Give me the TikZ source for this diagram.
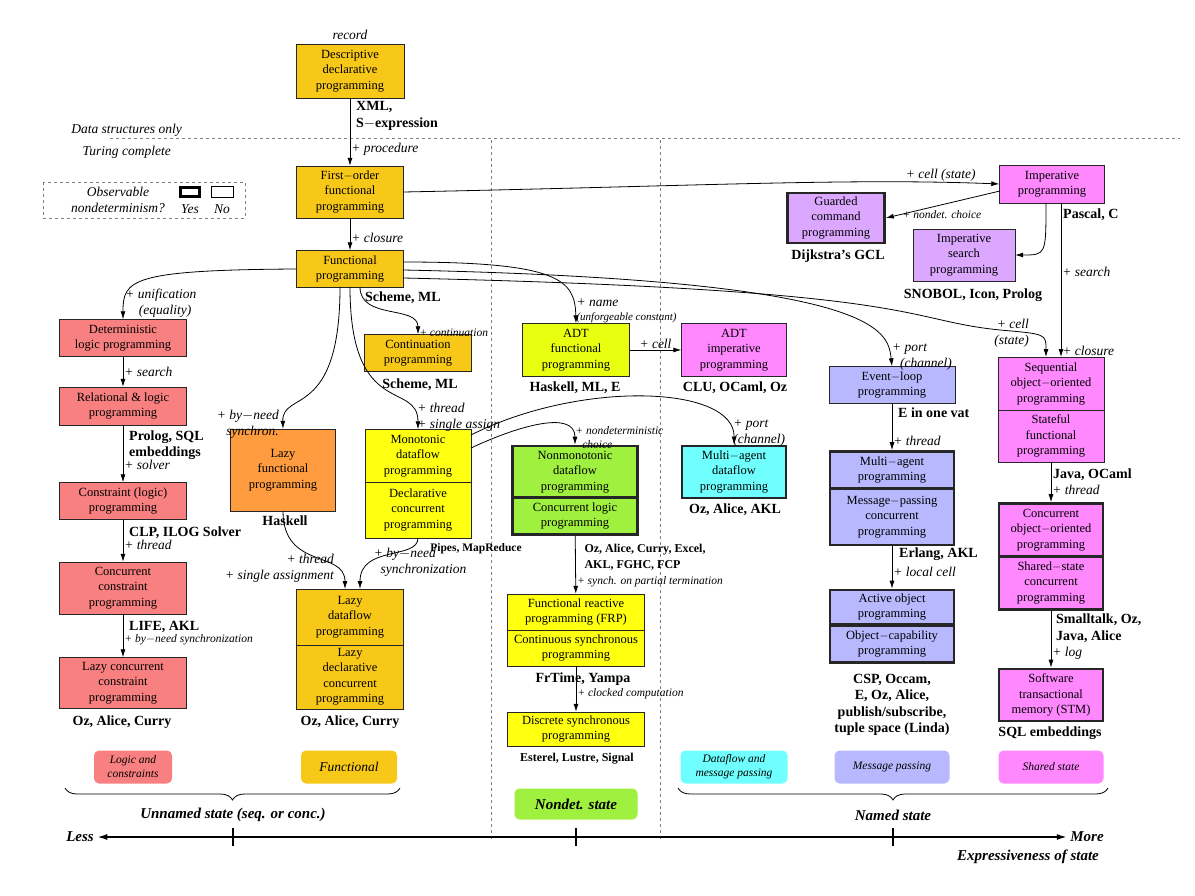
\documentclass[tikz,border=0pt]{standalone}
\usepackage{fontspec}
\setmainfont{Liberation Serif}
\usetikzlibrary{arrows.meta,decorations.pathreplacing}
\definecolor{logicRed}{HTML}{F88080}
\definecolor{funcGold}{HTML}{F8C818}
\definecolor{lazyOrange}{HTML}{FF9C40}
\definecolor{flowYellow}{HTML}{FFFF10}
\definecolor{adtLime}{HTML}{E8FF10}
\definecolor{stateMagenta}{HTML}{FF88FF}
\definecolor{nondetGreen}{HTML}{A0F040}
\definecolor{agentCyan}{HTML}{70FFFF}
\definecolor{msgLavender}{HTML}{B8B8FF}
\definecolor{guardLilac}{HTML}{DCA8FF}
\newcommand\bxf{\fontsize{12.5}{15.5}\selectfont}
\newcommand\lbf{\fontsize{14}{16.5}\selectfont\bfseries}
\newcommand\opf{\fontsize{13.5}{16}\selectfont\itshape}
\newcommand\smf{\fontsize{11.5}{14}\selectfont\itshape}

\begin{document}
\begin{tikzpicture}[x=1pt,y=-1pt,
  box/.style 2 args={draw=black!85,align=center,font=\bxf,inner sep=1pt,
    minimum width=#1,minimum height=#2},
  hard/.style={line width=2.6pt},
  lang/.style={font=\lbf,align=left,inner sep=1pt},
  op/.style={font=\opf,align=left,inner sep=1pt},
  sop/.style={font=\smf,align=left,inner sep=1pt},
  arr/.style={-{Latex[length=8pt,width=5pt]},thick},
  cat/.style={rounded corners=5pt,font=\smf,align=center,minimum height=33pt,inner sep=1pt},
  sep/.style={dashed,gray}]
 \useasboundingbox (0,0) rectangle (1195,896);
 % Levels
 \draw[sep] (110,138) -- (1180,138);
 \draw[sep] (491,140) -- (491,840);
 \draw[sep] (660,140) -- (660,840);
 \node[op,anchor=east] (dsonly) at (183,130) {Data structures only};
 \node[op,anchor=east] (turing) at (172,152) {Turing complete};
 % Legend
 \draw[dashed,gray] (43,182) rectangle (245,218);
 \node[op,align=center] (obs) at (118,200) {Observable\\nondeterminism?};
 \node[draw,hard,minimum width=19pt,minimum height=9pt,inner sep=0pt] (yesbox) at (190,192) {};
 \node[draw,minimum width=22pt,minimum height=11pt,inner sep=0pt] (nobox) at (222,192) {};
 \node[op] (yes) at (190,209) {Yes};
 \node[op] (no) at (222,209) {No};
 % Functional column
 \node[box={108pt}{54pt},fill=funcGold] (desc) at (350,71) {Descriptive\\declarative\\programming};
 \node[op] (record) at (350,35) {record};
 \node[lang,anchor=west] (xml) at (355,116) {XML,\\S$-$expression};
 \node[box={107pt}{52pt},fill=funcGold] (first) at (350,192) {First$-$order\\functional\\programming};
 \node[box={107pt}{37pt},fill=funcGold] (func) at (350,269) {Functional\\programming};
 \node[lang,anchor=west] (schemeA) at (364,298) {Scheme, ML};
 \node[box={107pt}{37pt},fill=funcGold] (cont) at (418,353) {Continuation\\programming};
 \node[lang] (schemeB) at (420,385) {Scheme, ML};
 \node[box={105pt}{82pt},fill=lazyOrange] (lazyfun) at (283,470) {Lazy\\functional\\programming};
 \node[lang] (haskell) at (285,521) {Haskell};
 \node[box={106pt}{53pt},fill=flowYellow] (mono) at (418,456) {Monotonic\\dataflow\\programming};
 \node[box={106pt}{56pt},fill=flowYellow] (declc) at (418,510) {Declarative\\concurrent\\programming};
 \node[font=\fontsize{11.5}{13}\selectfont\bfseries] (pipes) at (476,549) {Pipes, MapReduce};
 \node[box={107pt}{56pt},fill=funcGold] (lazyflow) at (350,617) {Lazy\\dataflow\\programming};
 \node[box={107pt}{64pt},fill=funcGold] (lazydecl) at (350,677) {Lazy\\declarative\\concurrent\\programming};
 \node[lang] (ozB) at (350,722) {Oz, Alice, Curry};
 % Logic column
 \node[box={127pt}{37pt},fill=logicRed] (detlog) at (123,338) {Deterministic\\logic programming};
 \node[box={127pt}{38pt},fill=logicRed] (rellog) at (123,406) {Relational \& logic\\programming};
 \node[lang,anchor=west] (prolog) at (128,445) {Prolog, SQL\\embeddings};
 \node[box={127pt}{37pt},fill=logicRed] (constr) at (123,501) {Constraint (logic)\\programming};
 \node[lang,anchor=west] (clp) at (128,533) {CLP, ILOG Solver};
 \node[box={127pt}{52pt},fill=logicRed] (cconstr) at (123,588) {Concurrent\\constraint\\programming};
 \node[lang,anchor=west] (life) at (128,627) {LIFE, AKL};
 \node[box={127pt}{51pt},fill=logicRed] (lcconstr) at (123,683) {Lazy concurrent\\constraint\\programming};
 \node[lang] (ozA) at (122,722) {Oz, Alice, Curry};
 % Nondeterministic column
 \node[box={107pt}{53pt},fill=adtLime] (adtf) at (576,350) {ADT\\functional\\programming};
 \node[lang] (haskB) at (575,388) {Haskell, ML, E};
 \node[box={125pt}{52pt},fill=nondetGreen,hard] (nonmono) at (575,472) {Nonmonotonic\\dataflow\\programming};
 \node[box={125pt}{37pt},fill=nondetGreen,hard] (clogic) at (575,516) {Concurrent logic\\programming};
 \node[font=\fontsize{12}{16}\selectfont\bfseries,align=left,anchor=west] (ozC) at (581,557) {Oz, Alice, Curry, Excel,\\AKL, FGHC, FCP};
 \node[box={137pt}{36pt},fill=flowYellow] (frp) at (576,612) {Functional reactive\\programming (FRP)};
 \node[box={137pt}{36pt},fill=flowYellow] (csync) at (576,648) {Continuous synchronous\\programming};
 \node[lang] (frtime) at (583,679) {FrTime, Yampa};
 \node[box={137pt}{34pt},fill=flowYellow] (dsync) at (576,729) {Discrete synchronous\\programming};
 \node[font=\fontsize{12}{13}\selectfont\bfseries] (esterel) at (577,759) {Esterel, Lustre, Signal};
 % Named state columns
 \node[box={105pt}{53pt},fill=stateMagenta] (adti) at (734,350) {ADT\\imperative\\programming};
 \node[lang] (clu) at (735,388) {CLU, OCaml, Oz};
 \node[box={104pt}{52pt},fill=agentCyan,hard] (madf) at (734,472) {Multi$-$agent\\dataflow\\programming};
 \node[lang] (ozD) at (735,510) {Oz, Alice, AKL};
 \node[box={105pt}{38pt},fill=stateMagenta] (imper) at (1052,184) {Imperative\\programming};
 \coordinate (impguard) at (1000,191);
 \node[lang,anchor=west] (pascal) at (1062,215) {Pascal, C};
 \node[box={97pt}{50pt},fill=guardLilac,hard] (guard) at (836,218) {Guarded\\command\\programming};
 \node[lang] (dijk) at (838,256) {Dijkstra's GCL};
 \node[sop] (ndchoice) at (942,215) {+ nondet. choice};
 \node[box={102pt}{52pt},fill=guardLilac] (isearch) at (964,255) {Imperative\\search\\programming};
 \node[lang] (snobol) at (973,295) {SNOBOL, Icon, Prolog};
 \node[box={126pt}{37pt},fill=msgLavender] (evloop) at (892,385) {Event$-$loop\\programming};
 \node[lang,anchor=west] (evat) at (897,413) {E in one vat};
 \node[box={124pt}{37pt},fill=msgLavender,hard] (magent) at (892,470) {Multi$-$agent\\programming};
 \node[box={124pt}{56pt},fill=msgLavender,hard] (msgpass) at (892,517) {Message$-$passing\\concurrent\\programming};
 \node[lang,anchor=west] (erlang) at (898,554) {Erlang, AKL};
 \node[box={124pt}{34pt},fill=msgLavender,hard] (actobj) at (892,607) {Active object\\programming};
 \node[box={124pt}{37pt},fill=msgLavender,hard] (ocap) at (892,644) {Object$-$capability\\programming};
 \node[lang,align=center] (csp) at (892,705) {CSP, Occam,\\E, Oz, Alice,\\publish/subscribe,\\tuple space (Linda)};
 \node[box={106pt}{53pt},fill=stateMagenta] (seqoo) at (1051,384) {Sequential\\object$-$oriented\\programming};
 \node[box={106pt}{52pt},fill=stateMagenta] (statef) at (1051,436) {Stateful\\functional\\programming};
 \node[lang,anchor=west] (java) at (1052,475) {Java, OCaml};
 \node[box={104pt}{53pt},fill=stateMagenta,hard] (concoo) at (1051,530) {Concurrent\\object$-$oriented\\programming};
 \node[box={104pt}{53pt},fill=stateMagenta,hard] (shared) at (1051,583) {Shared$-$state\\concurrent\\programming};
 \node[lang,anchor=west] (small) at (1055,628) {Smalltalk, Oz,\\Java, Alice};
 \node[box={104pt}{52pt},fill=stateMagenta,hard] (stm) at (1051,695) {Software\\transactional\\memory (STM)};
 \node[lang] (sqlB) at (1050,733) {SQL embeddings};
 % Connectors
 \draw[arr] (desc) -- (first) node[op,pos=0.75,right] {+ procedure};
 \draw[arr] (first) -- (func) node[op,pos=0.6,right] {+ closure};
 \draw[arr] (first.east) .. controls (700,186) and (850,178) .. (imper.west) node[op,pos=0.87,above] {+ cell (state)};
 \draw[arr] (impguard) -- (guard.east);
 \draw[arr] (1046,203) .. controls (1046,255) .. (isearch.east);
 \draw[arr] (1061,203) -- (1061,357) node[op,pos=0.45,right] {+ search} node[op,pos=0.96,right] {+ closure};
 \draw[arr] (func.west) .. controls (130,270) and (123,280) .. (detlog.north) node[op,pos=0.85,right,align=left] {+ unification\\\hspace*{1em}(equality)};
 \draw[arr] (340,287) .. controls (340,420) and (282,390) .. (lazyfun.north) node[op,pos=0.96,left,align=right,xshift=-3pt] {+ by$-$need\\synchron.};
 \draw[arr] (350,287) .. controls (350,420) and (418,380) .. (mono.north) node[op,pos=0.9,right] {+ thread\\+ single assign};
 \draw[arr] (360,287) .. controls (360,320) and (418,305) .. (cont.north) node[sop,pos=0.98,right] {+ continuation};
 \draw[arr] (403,262) .. controls (560,262) and (575,280) .. (adtf.north) node[op,pos=0.9,right,align=left] {+ name\\[-2pt]\fontsize{11}{12}\selectfont(unforgeable constant)};
 \draw[arr] (403,270) .. controls (880,280) and (888,330) .. (evloop.north) node[op,pos=0.92,right] {+ port\\\hspace*{0.6em}(channel)};
 \draw[arr] (403,278) .. controls (930,290) and (900,320) .. (1000,330) .. controls (1046,334) .. (1046,357) node[op,pos=0.3,left,align=right] {+ cell\\(state)};
 \draw[arr] (adtf.east) -- (adti.west) node[op,midway,above] {+ cell};
 \draw[arr] (471,448) .. controls (520,425) and (575,410) .. (nonmono.north) node[sop,pos=0.92,right] {+ nondeterministic\\\hspace*{0.6em}choice};
 \draw[arr] (471,435) .. controls (580,380) and (735,385) .. (madf.north) node[op,pos=0.93,right] {+ port\\(channel)};
 \draw[arr] (detlog) -- (rellog) node[op,midway,right] {+ search};
 \draw[arr] (rellog) -- (constr) node[op,pos=0.7,right] {+ solver};
 \draw[arr] (constr) -- (cconstr) node[op,pos=0.6,right] {+ thread};
 \draw[arr] (cconstr) -- (lcconstr) node[sop,pos=0.6,right] {+ by$-$need synchronization};
 \draw[arr] (283,511) .. controls (283,570) and (345,550) .. (345,589) node[op,pos=0.75,left,align=right] {+ thread\\+ single assignment};
 \draw[arr] (418,538) .. controls (418,560) and (360,545) .. (360,589) node[op,pos=0.7,right] {+ by$-$need\\\hspace*{0.5em}synchronization};
 \draw[arr] (clogic) -- (frp) node[sop,pos=0.8,right] {+ synch. on partial termination};
 \draw[arr] (csync) -- (dsync) node[sop,pos=0.6,right] {+ clocked computation};
 \draw[arr] (evloop) -- (magent) node[op,pos=0.8,right] {+ thread};
 \draw[arr] (msgpass) -- (actobj) node[op,pos=0.6,right] {+ local cell};
 \draw[arr] (statef) -- (concoo) node[op,pos=0.7,right] {+ thread};
 \draw[arr] (shared) -- (stm) node[op,pos=0.75,right] {+ log};
 % Categories
 \node[cat,fill=logicRed,minimum width=78pt] (catlog) at (133,767) {Logic and\\constraints};
 \node[cat,fill=funcGold,minimum width=96pt,font=\opf] (catfun) at (349,767) {Functional};
 \node[cat,fill=nondetGreen,minimum width=123pt,minimum height=31pt,font=\fontsize{15}{17}\selectfont\bfseries\itshape] (catnd) at (576,804) {Nondet. state};
 \node[cat,fill=agentCyan,minimum width=107pt] (catdf) at (734,767) {Dataflow and\\message passing};
 \node[cat,fill=msgLavender,minimum width=115pt] (catmp) at (892,767) {Message passing};
 \node[cat,fill=stateMagenta,minimum width=105pt] (catss) at (1051,767) {Shared state};
 \draw[decorate,decoration={brace,mirror,amplitude=12pt},thick] (65,788) -- (400,788);
 \draw[decorate,decoration={brace,mirror,amplitude=12pt},thick] (678,788) -- (1108,788);
 \node[font=\fontsize{15}{17}\selectfont\bfseries\itshape] (unnamed) at (233,815) {Unnamed state (seq. or conc.)};
 \node[font=\fontsize{15}{17}\selectfont\bfseries\itshape] (named) at (893,815) {Named state};
 % Axis
 \node[font=\fontsize{15}{17}\selectfont\bfseries\itshape] (less) at (80,837) {Less};
 \node[font=\fontsize{15}{17}\selectfont\bfseries\itshape] (more) at (1087,837) {More};
 \node[font=\fontsize{15}{17}\selectfont\bfseries\itshape] (expr) at (1028,857) {Expressiveness of state};
 \draw[{Latex[length=10pt,width=6pt]}-{Latex[length=10pt,width=6pt]},line width=1.6pt] (less.east) -- (more.west);
 \foreach \tx in {233,576,893} \draw[line width=1.6pt] (\tx,828) -- (\tx,846);
\end{tikzpicture}
\end{document}
